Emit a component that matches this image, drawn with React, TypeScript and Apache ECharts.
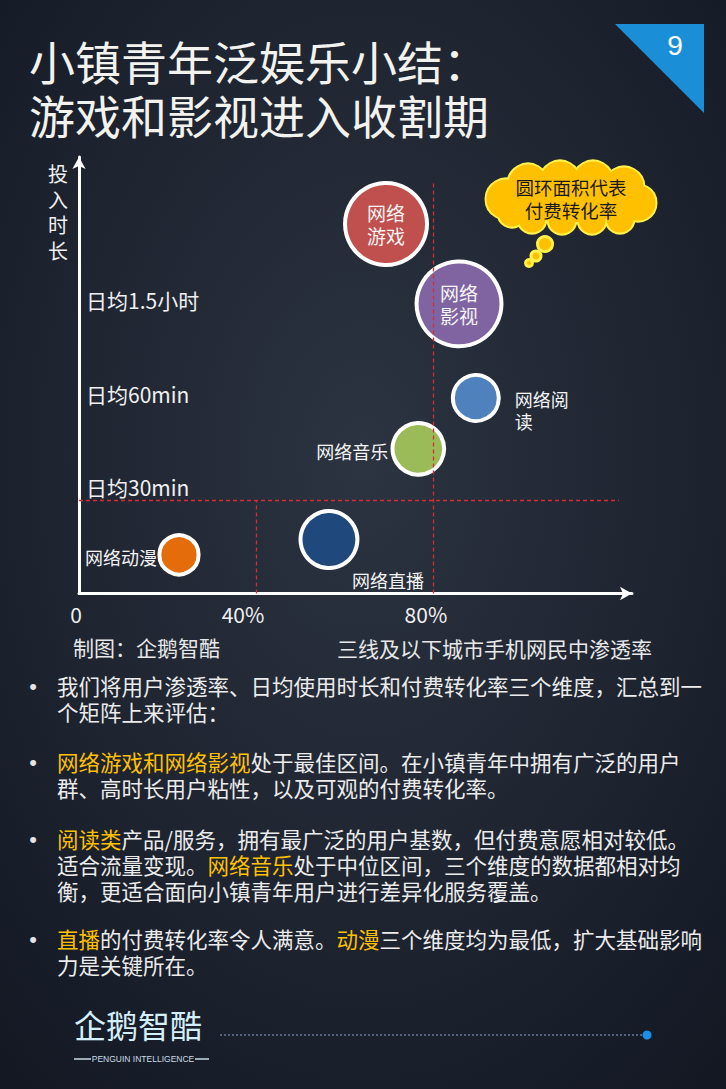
import React, { useEffect, useRef } from 'react';
import * as echarts from 'echarts';

const FONT = '"Noto Sans CJK SC", "Noto Sans", sans-serif';

// ---------- data ----------
const titleLines = ['小镇青年泛娱乐小结：', '游戏和影视进入收割期'];
const pageNumber = '9';
const categories = ['网络游戏', '网络影视', '网络阅读', '网络音乐', '网络直播', '网络动漫'];
const penetration = [69.4, 85.9, 89.7, 76.7, 56.5, 22.6]; // % of 3rd-tier-and-below mobile netizens
const dailyMinutes = [118.5, 92.9, 62.7, 46.4, 17.3, 12.4]; // time invested per day
const payIndex = [83, 89, 26, 33, 40, 19]; // bubble area ~ paid conversion rate
const bubbleLabels = ['网络\n游戏', '网络\n影视', '网络阅\n读', '网络音乐', '网络直播', '网络动漫'];
const yTickLabels: Record<number, string> = { 30: '日均30min', 60: '日均60min', 90: '日均1.5小时' };
const yAxisName = '投入时长';
const xAxisName = '三线及以下城市手机网民中渗透率';
const sourceText = '制图：企鹅智酷';
const calloutText = '圆环面积代表\n付费转化率';
const paragraphs = [
  '我们将用户渗透率、日均使用时长和付费转化率三个维度，汇总到一\n个矩阵上来评估：',
  '{h|网络游戏和网络影视}处于最佳区间。在小镇青年中拥有广泛的用户\n群、高时长用户粘性，以及可观的付费转化率。',
  '{h|阅读类}产品/服务，拥有最广泛的用户基数，但付费意愿相对较低。\n适合流量变现。{h|网络音乐}处于中位区间，三个维度的数据都相对均\n衡，更适合面向小镇青年用户进行差异化服务覆盖。',
  '{h|直播}的付费转化率令人满意。{h|动漫}三个维度均为最低，扩大基础影响\n力是关键所在。',
];
const logoText = '企鹅智酷';
const logoSub = 'PENGUIN INTELLIGENCE';

// ---------- styles ----------
const bubbleColors = ['#c0504d', '#8064a2', '#4f81bd', '#9bbb59', '#1f497d', '#e46c0a'];
const labelStyles: any[] = [
  { fontSize: 19, lineHeight: 23, align: 'center', offset: [0, 0] },
  { fontSize: 19, lineHeight: 23, align: 'center', offset: [0, 0] },
  { fontSize: 18, lineHeight: 22, align: 'left', offset: [39, 12] },
  { fontSize: 18, lineHeight: 22, align: 'right', offset: [-30, 2] },
  { fontSize: 18, lineHeight: 22, align: 'center', offset: [59, 40] },
  { fontSize: 18, lineHeight: 22, align: 'right', offset: [-22, 2] },
];
const paraTops = [672, 748, 825, 925];

const cloudBumps: number[][] = [
  [506, 199, 20], [528, 184, 20], [560, 181, 20], [593, 181, 20], [624, 187, 20],
  [638, 203, 18], [620, 219, 14], [592, 220, 14], [562, 220, 14], [532, 219, 14], [512, 213, 14],
  [545, 244, 7.5], [536, 256, 5], [529, 263, 3.5],
];

export default function App() {
  const ref = useRef<HTMLDivElement>(null);
  useEffect(() => {
    document.body.style.margin = '0';
    const chart = echarts.init(ref.current!, null, { renderer: 'svg' });

    const cloudStroke = '#fff04a';
    const cloudFill = '#ffc000';
    const graphics: any[] = [
      {
        type: 'rect', z: -10, silent: true,
        shape: { x: 0, y: 0, width: 726, height: 1089 },
        style: {
          fill: {
            type: 'radial', x: 0.5, y: 0.42, r: 0.75,
            colorStops: [
              { offset: 0, color: '#2c3441' },
              { offset: 1, color: '#131823' },
            ],
          },
        },
      },
      {
        type: 'polygon', z: 5,
        shape: { points: [[615, 24], [704, 24], [704, 113]] },
        style: { fill: '#1a8fd8' },
      },
      {
        type: 'text', z: 6,
        style: { text: pageNumber, x: 675, y: 45, fill: '#ffffff', fontSize: 28, fontFamily: '"Liberation Sans", Arial, sans-serif', align: 'center', verticalAlign: 'middle' },
      },
      ...titleLines.map((t, i) => ({
        type: 'text', z: 6,
        style: { text: t, x: 29, y: 60 + i * 54, fill: '#f2f2ee', fontSize: 46, fontFamily: FONT, verticalAlign: 'middle' },
      })),
      {
        type: 'text', z: 6,
        style: { text: yAxisName.split('').join('\n'), x: 58, y: 161, fill: '#f0f0f0', fontSize: 20, lineHeight: 25.5, fontFamily: FONT, align: 'center', verticalAlign: 'top' },
      },
      {
        type: 'text', z: 6,
        style: { text: sourceText, x: 73, y: 647, fill: '#e8e8e8', fontSize: 21, fontFamily: FONT, verticalAlign: 'middle' },
      },
      {
        type: 'text', z: 6,
        style: { text: xAxisName, x: 652, y: 648, fill: '#e8e8e8', fontSize: 21, fontFamily: FONT, align: 'right', verticalAlign: 'middle' },
      },
      // cloud callout
      ...cloudBumps.map((b) => ({
        type: 'circle', z: 10, silent: true,
        shape: { cx: b[0], cy: b[1], r: b[2] },
        style: { fill: cloudFill, stroke: cloudStroke, lineWidth: 3 },
      })),
      {
        type: 'ellipse', z: 10, silent: true,
        shape: { cx: 572, cy: 200, rx: 62, ry: 22 },
        style: { fill: cloudFill, stroke: cloudStroke, lineWidth: 3 },
      },
      ...cloudBumps.slice(0, 11).map((b) => ({
        type: 'circle', z: 11, silent: true,
        shape: { cx: b[0], cy: b[1], r: b[2] - 0.5 },
        style: { fill: cloudFill },
      })),
      {
        type: 'ellipse', z: 11, silent: true,
        shape: { cx: 572, cy: 200, rx: 62, ry: 22 },
        style: { fill: cloudFill },
      },
      {
        type: 'text', z: 12,
        style: { text: calloutText, x: 571, y: 198.5, fill: '#1a1a1a', fontSize: 18.5, lineHeight: 23, fontFamily: FONT, align: 'center', verticalAlign: 'middle' },
      },
      // paragraphs
      ...paragraphs.flatMap((p, i) => [
        {
          type: 'text', z: 6,
          style: { text: '•', x: 33, y: paraTops[i] + 14, fill: '#e4e4e4', fontSize: 22, fontFamily: '"Liberation Sans", Arial, sans-serif', align: 'center', verticalAlign: 'middle' },
        },
        {
          type: 'text', z: 6,
          style: {
            text: p, x: 57, y: paraTops[i], fill: '#ececec', fontSize: 21.5, lineHeight: 26, fontFamily: FONT, verticalAlign: 'top',
            rich: { h: { fill: '#ffc000', fontSize: 21.5, lineHeight: 26, fontFamily: FONT } },
          },
        },
      ]),
      // logo
      {
        type: 'text', z: 6,
        style: { text: logoText, x: 74, y: 1024, fill: '#d4eefa', fontSize: 32, fontFamily: FONT, verticalAlign: 'middle' },
      },
      {
        type: 'text', z: 6,
        style: { text: logoSub, x: 143, y: 1059, fill: '#c8dce6', fontSize: 8.5, fontFamily: '"Liberation Sans", Arial, sans-serif', align: 'center', verticalAlign: 'middle' },
      },
      { type: 'line', z: 6, shape: { x1: 74, y1: 1059, x2: 91, y2: 1059 }, style: { stroke: '#c8dce6', lineWidth: 1.5 } },
      { type: 'line', z: 6, shape: { x1: 195, y1: 1059, x2: 209, y2: 1059 }, style: { stroke: '#c8dce6', lineWidth: 1.5 } },
      { type: 'line', z: 6, shape: { x1: 220, y1: 1035, x2: 643, y2: 1035 }, style: { stroke: '#8fa6d6', lineWidth: 1, lineDash: [2, 2] } },
      { type: 'circle', z: 6, shape: { cx: 647, cy: 1035, r: 4.5 }, style: { fill: '#1e8fe6' } },
    ];

    const axisLineStyle = { color: '#ffffff', width: 3 };

    chart.setOption({
      animation: false,
      grid: { left: 79, right: 94, top: 157, bottom: 495.5, containLabel: false },
      xAxis: {
        type: 'value', min: 0, max: 125, interval: 40,
        axisLine: { show: true, lineStyle: axisLineStyle, symbol: ['none', 'arrow'], symbolSize: [10, 12] },
        axisTick: { show: false },
        splitLine: { show: false },
        axisLabel: {
          margin: 10, color: '#f0f0f0', fontSize: 21, fontFamily: FONT,
          showMaxLabel: false,
          formatter: (v: number) => {
            if (v === 0) return '{z|0}';
            if (v === 40) return '{a|40%}';
            if (v === 80) return '{b|80%}';
            return '';
          },
          rich: {
            z: { fontSize: 21, fontFamily: FONT, color: '#f0f0f0', padding: [0, 6, 0, 0] },
            a: { fontSize: 21, fontFamily: FONT, color: '#f0f0f0', padding: [0, 26, 0, 0] },
            b: { fontSize: 21, fontFamily: FONT, color: '#f0f0f0', padding: [0, 14, 0, 0] },
          },
        },
      },
      yAxis: {
        type: 'value', min: 0, max: 140, interval: 30,
        axisLine: { show: true, lineStyle: axisLineStyle, symbol: ['none', 'arrow'], symbolSize: [10, 12] },
        axisTick: { show: false },
        splitLine: { show: false },
        axisLabel: {
          inside: true, margin: 7, color: '#f0f0f0', fontSize: 21, fontFamily: FONT,
          verticalAlign: 'bottom', padding: [0, 0, 2, 0],
          showMaxLabel: false,
          formatter: (v: number) => yTickLabels[v] || '',
        },
      },
      series: [
        {
          type: 'scatter', data: [], z: 1, silent: true,
          markLine: {
            silent: true, symbol: ['none', 'none'], label: { show: false },
            lineStyle: { color: '#d42c34', type: [4, 3], width: 1.3, opacity: 1 },
            emphasis: { disabled: true },
            data: [
              [{ coord: [0, 30] }, { coord: [122, 30] }],
              [{ coord: [40, 0] }, { coord: [40, 30] }],
              [{ coord: [80, 0] }, { coord: [80, 132] }],
            ],
          },
        },
        {
          type: 'scatter', z: 3, silent: true,
          data: categories.map((c, i) => ({
            name: c,
            value: [penetration[i], dailyMinutes[i], payIndex[i]],
            symbolSize: 9 * Math.sqrt(payIndex[i]),
            itemStyle: { color: bubbleColors[i], borderColor: '#ffffff', borderWidth: 4, opacity: 1 },
            label: {
              show: true, position: 'inside', color: '#f4f4f4', fontFamily: FONT,
              formatter: bubbleLabels[i],
              verticalAlign: 'middle',
              ...labelStyles[i],
            },
          })),
        },
      ],
      graphic: { elements: graphics },
    });
    return () => chart.dispose();
  }, []);
  return <div ref={ref} style={{ position: 'absolute', left: 0, top: 0, width: 726, height: 1089 }} />;
}
